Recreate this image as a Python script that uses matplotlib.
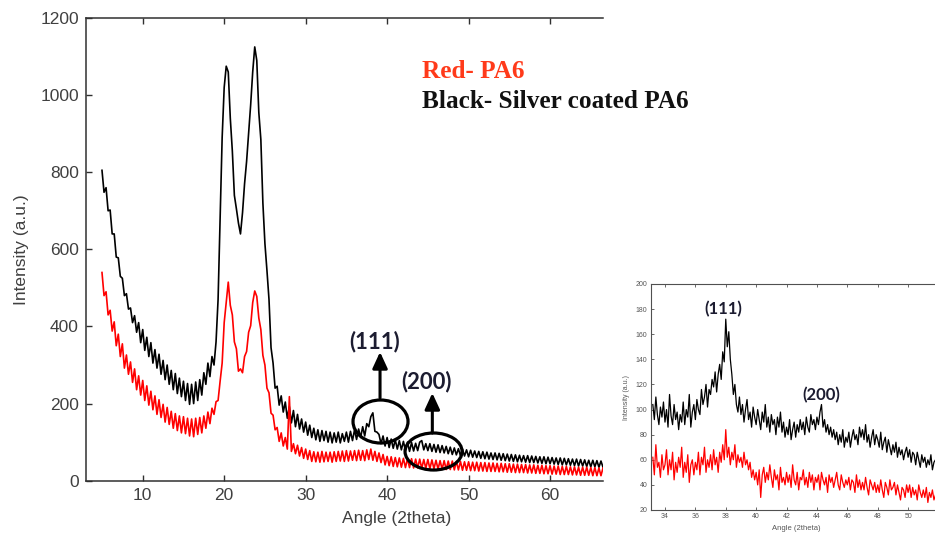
import numpy as np
import matplotlib
matplotlib.use("Agg")
import matplotlib.pyplot as plt
from matplotlib.patches import Ellipse

# ---------------------------------------------------------------------------
# XRD patterns, full scan (2theta step 0.25 deg, 5.0 .. 66.5 deg)
# ---------------------------------------------------------------------------
two_theta = np.round(np.arange(5.0, 66.51, 0.25), 2)

silver_pa6 = [
    805, 748, 760, 700,  702, 640, 640, 580,  578, 530, 525, 480,
    485, 445, 448, 410,  428, 385, 410, 358,  392, 338, 372, 322,
    358, 305, 340, 292,  328, 276, 312, 262,  300, 250, 286, 236,
    278, 226, 266, 218,  258, 208, 252, 198,  250, 200, 256, 208,
    262, 222, 280, 250,  305, 270, 322, 300,  360, 470, 680, 890,
    1020, 1075, 1060, 940,  855, 740, 705, 668,  640, 695, 770, 828,
    900, 975, 1060, 1125,  1090, 955, 885, 720,  615, 545, 470, 345,
    305, 240, 245, 196,  220, 178, 204, 162,  192, 150, 182, 140,
    172, 134, 160, 126,  152, 118, 144, 112,  136, 106, 132, 102,
    130, 104, 128, 100,  126, 98, 124, 100,  126, 98, 122, 102,
    126, 100, 128, 104,  132, 107, 134, 112,  140, 116, 148, 140,
    166, 176, 128, 126,  120, 96, 116, 90,  112, 86, 108, 84,
    106, 82, 104, 80,  102, 78, 100, 76,  99, 77, 97, 78,
    100, 104, 80, 96,  78, 96, 76, 94,  74, 93, 73, 91,
    72, 89, 70, 87,  68, 85, 67, 83,  65, 82, 64, 80,
    62, 79, 61, 77,  60, 76, 58, 75,  57, 74, 56, 72,
    55, 72, 54, 71,  53, 70, 52, 69,  51, 68, 50, 67,
    49, 66, 49, 65,  48, 65, 47, 64,  47, 63, 46, 62,
    45, 62, 44, 61,  44, 60, 43, 59,  42, 59, 41, 58,
    41, 57, 40, 56,  39, 56, 38, 55,  38, 54, 37, 53,
    36, 53, 36, 52,  35, 51, 35,
]

neat_pa6 = [
    540, 480, 490, 430,  442, 388, 412, 350,  380, 322, 355, 292,
    326, 276, 308, 255,  290, 236, 272, 222,  260, 208, 246, 196,
    232, 184, 220, 172,  210, 164, 198, 152,  190, 146, 180, 136,
    174, 130, 168, 124,  166, 122, 162, 116,  160, 114, 162, 120,
    164, 124, 168, 136,  178, 148, 188, 172,  205, 208, 258, 305,
    410, 462, 515, 455,  430, 360, 342, 284,  290, 280, 322, 335,
    385, 402, 462, 492,  478, 422, 392, 325,  300, 240, 228, 175,
    170, 132, 138, 102,  124, 90, 112, 82,  218, 76, 96, 70,
    92, 64, 86, 58,  82, 55, 78, 50,  75, 49, 74, 48,
    76, 49, 74, 50,  74, 48, 75, 50,  76, 51, 77, 50,
    78, 51, 77, 53,  78, 52, 79, 53,  78, 52, 80, 55,
    82, 53, 76, 50,  72, 47, 68, 41,  63, 39, 62, 37,
    60, 36, 59, 35,  58, 34, 57, 34,  57, 33, 56, 33,
    56, 32, 55, 32,  55, 31, 54, 31,  53, 30, 52, 30,
    52, 29, 51, 29,  51, 28, 50, 28,  50, 27, 49, 27,
    49, 26, 48, 26,  48, 25, 47, 25,  47, 24, 46, 24,
    46, 24, 45, 23,  45, 23, 44, 22,  44, 22, 43, 21,
    43, 21, 42, 21,  42, 20, 41, 20,  41, 19, 40, 19,
    40, 18, 39, 18,  39, 17, 38, 17,  38, 16, 37, 16,
    37, 16, 36, 15,  36, 15, 35, 14,  35, 14, 35, 14,
    34, 13, 34, 13,  33, 13, 33,
]

# ---------------------------------------------------------------------------
# Detail scan around the Ag reflections (2theta step 0.1 deg, 33.2 .. 51.8)
# ---------------------------------------------------------------------------
two_theta_zoom = np.round(np.arange(33.2, 51.81, 0.1), 1)

silver_pa6_zoom = [
    104, 92, 110, 96, 88, 102, 94, 106,
    90, 100, 86, 112, 95, 88, 104, 92, 98, 84,
    96, 90, 106, 88, 100, 94, 112, 86, 98, 104,
    92, 108, 100, 96, 116, 104, 110, 120, 102, 116,
    112, 124, 118, 130, 114, 128, 136, 124, 146, 138,
    172, 150, 162, 140, 128, 112, 120, 104, 98, 110,
    96, 104, 90, 100, 108, 92, 98, 86, 102, 94,
    88, 100, 92, 84, 98, 90, 104, 86, 94, 82,
    96, 88, 92, 80, 94, 86, 98, 82, 90, 78,
    86, 80, 92, 76, 84, 90, 78, 88, 82, 92,
    84, 90, 80, 94, 86, 82, 96, 88, 92, 84,
    94, 88, 98, 104, 86, 92, 82, 88, 80, 86,
    78, 84, 76, 82, 72, 80, 74, 84, 70, 78,
    74, 82, 70, 78, 84, 76, 80, 72, 86, 78,
    84, 76, 88, 74, 80, 70, 78, 84, 72, 80,
    76, 70, 82, 68, 74, 78, 66, 76, 70, 64,
    72, 66, 74, 62, 70, 64, 68, 60, 66, 70,
    62, 68, 58, 66, 64, 56, 66, 60, 54, 64,
    58, 62, 54, 60, 56, 64, 52, 58, 60,
]

neat_pa6_zoom = [
    62, 48, 72, 54, 58, 46, 64, 52,
    56, 68, 48, 60, 52, 66, 44, 58, 50, 62,
    54, 70, 46, 58, 50, 64, 42, 56, 60, 48,
    58, 52, 66, 48, 62, 56, 70, 50, 60, 54,
    64, 52, 68, 56, 62, 50, 66, 58, 72, 60,
    84, 62, 70, 56, 66, 60, 72, 54, 64, 58,
    62, 54, 66, 56, 60, 52, 58, 46, 52, 44,
    50, 40, 52, 30, 48, 54, 42, 50, 44, 56,
    46, 38, 52, 44, 48, 36, 54, 42, 46, 40,
    50, 42, 48, 38, 56, 44, 40, 50, 36, 46,
    44, 52, 40, 46, 38, 50, 42, 48, 36, 46,
    42, 48, 36, 50, 44, 40, 46, 34, 48, 42,
    46, 38, 44, 50, 40, 36, 48, 42, 38, 44,
    40, 46, 36, 44, 42, 34, 48, 38, 44, 36,
    42, 36, 46, 38, 32, 44, 40, 36, 42, 34,
    40, 34, 44, 36, 30, 42, 38, 32, 44, 36,
    38, 42, 32, 40, 34, 28, 38, 36, 30, 40,
    34, 40, 30, 38, 32, 36, 28, 40, 34, 30,
    36, 30, 38, 26, 34, 30, 36, 28, 32,
]

main_xticks = [10, 20, 30, 40, 50, 60]
main_yticks = [0, 200, 400, 600, 800, 1000, 1200]
zoom_xticks = [34, 36, 38, 40, 42, 44, 46, 48, 50]
zoom_yticks = [20, 40, 60, 80, 100, 120, 140, 160, 180, 200]

W, H = 935, 533
TICK_GREY = "#404040"
SANS = ["Liberation Sans", "DejaVu Sans"]
SERIF = ["Liberation Serif", "DejaVu Serif"]
HKL_FONT = ["Lato", "DejaVu Sans"]
HKL_COLOR = "#1c1c30"


def px_rect(left, top, right, bottom):
    return [left / W, 1 - bottom / H, (right - left) / W, (bottom - top) / H]


fig = plt.figure(figsize=(W / 100, H / 100), dpi=100)
fig.patch.set_facecolor("white")

# ---------------------------- main pattern --------------------------------
ax = fig.add_axes(px_rect(85.7, 18, 603, 480.7))
ax.plot(two_theta, silver_pa6, color="black", lw=1.2)
ax.plot(two_theta, neat_pa6, color="#ff0000", lw=1.2)
ax.set_xlim(3, 66.5)
ax.set_ylim(0, 1200)
ax.set_xticks(main_xticks)
ax.set_yticks(main_yticks)
ax.spines["right"].set_visible(False)
for s in ("left", "top", "bottom"):
    ax.spines[s].set_color("#303030")
    ax.spines[s].set_linewidth(1.1)
ax.tick_params(direction="in", top=True, right=False, length=4, width=1,
               color="#303030", labelcolor=TICK_GREY, labelsize=12.5, pad=5)
for lab in ax.get_xticklabels() + ax.get_yticklabels():
    lab.set_family(SANS)

ax.set_ylabel("Intensity (a.u.)", family=SANS, fontsize=12.5,
              color=TICK_GREY, labelpad=8)
fig.text(396.5 / W, 1 - 518 / H, "Angle (2theta)", family=SANS,
         fontsize=12.5, color=TICK_GREY, ha="center", va="center")

fig.text(422 / W, 1 - 78 / H, "Red- PA6", family=SERIF, weight="bold",
         fontsize=18.2, color="#ff3a1a", ha="left", va="baseline")
fig.text(422 / W, 1 - 108 / H, "Black- Silver coated PA6", family=SERIF,
         weight="bold", fontsize=18.2, color="#111111", ha="left",
         va="baseline")

# Ag reflections marked on the full scan
ax.add_patch(Ellipse((39.19, 153.5), 6.75, 111.5, fill=False, lw=2.3,
                     ec="black", zorder=5))
ax.add_patch(Ellipse((45.70, 75.7), 7.0, 96, fill=False, lw=2.3,
                     ec="black", zorder=5))
arrow_style = dict(arrowstyle="-|>,head_length=0.65,head_width=0.3",
                   lw=2.2, color="black", mutation_scale=15,
                   shrinkA=0, shrinkB=0)
ax.annotate("", xy=(39.13, 333.8), xytext=(39.13, 214.5),
            arrowprops=arrow_style, zorder=5)
ax.annotate("", xy=(45.55, 227.4), xytext=(45.55, 123.7),
            arrowprops=arrow_style, zorder=5)
ax.text(38.5, 359.7, "(111)", family=HKL_FONT, weight="bold", fontsize=16,
        color=HKL_COLOR, ha="center", va="center")
ax.text(44.8, 258.5, "(200)", family=HKL_FONT, weight="bold", fontsize=16,
        color=HKL_COLOR, ha="center", va="center")

# ---------------------------- detail scan ---------------------------------
ax2 = fig.add_axes(px_rect(651, 284, 938.5, 510))
ax2.plot(two_theta_zoom, silver_pa6_zoom, color="black", lw=0.9)
ax2.plot(two_theta_zoom, neat_pa6_zoom, color="#ff0000", lw=0.9)
ax2.set_xlim(33.08, 52.0)
ax2.set_ylim(20, 200)
ax2.set_xticks(zoom_xticks)
ax2.set_yticks(zoom_yticks)
for s in ax2.spines.values():
    s.set_color("#505050")
    s.set_linewidth(0.8)
ax2.tick_params(direction="in", top=True, right=True, length=2.5, width=0.6,
                color="#505050", labelcolor="#555555", labelsize=5, pad=2.5)
for lab in ax2.get_xticklabels() + ax2.get_yticklabels():
    lab.set_family(SANS)
ax2.set_ylabel("Intensity (a.u.)", family=SANS, fontsize=5, color="#555555",
               labelpad=4)
fig.text(796 / W, 1 - 528 / H, "Angle (2theta)", family=SANS, fontsize=5.5,
         color="#555555", ha="center", va="center")
ax2.text(37.81, 179.7, "(111)", family=HKL_FONT, weight="bold", fontsize=12,
         color=HKL_COLOR, ha="center", va="center")
ax2.text(44.32, 111.2, "(200)", family=HKL_FONT, weight="bold", fontsize=12,
         color=HKL_COLOR, ha="center", va="center")

fig.savefig("out.png", dpi=100, facecolor="white")
